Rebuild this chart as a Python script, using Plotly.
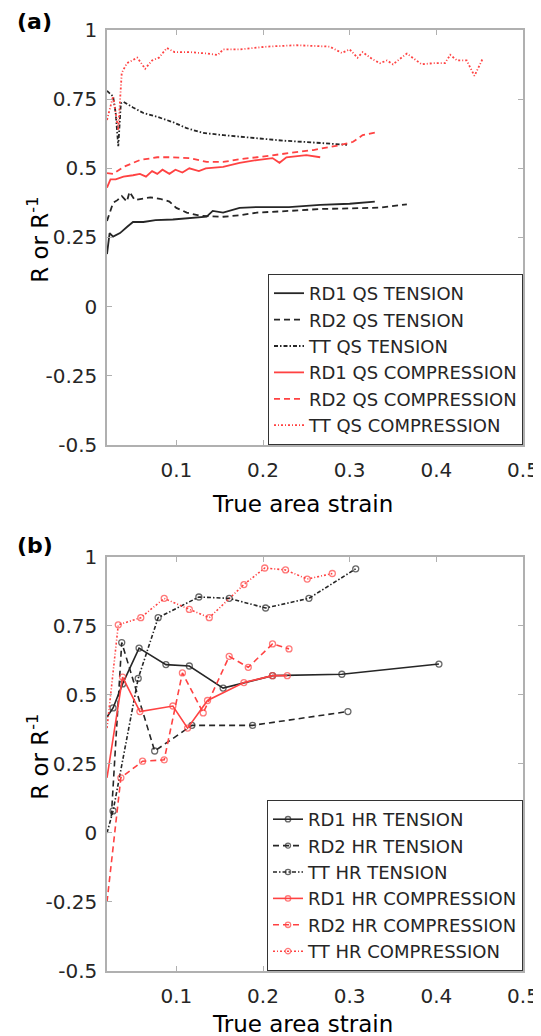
import plotly.graph_objects as go

# ---------------- Panel (a): quasi-static ----------------
rd1_qs_t_x = [0.020, 0.023, 0.027, 0.035, 0.043, 0.050, 0.062, 0.076, 0.096, 0.115, 0.135, 0.142, 0.154, 0.173, 0.193, 0.230, 0.266, 0.300, 0.329]
rd1_qs_t_y = [0.19, 0.266, 0.253, 0.266, 0.288, 0.306, 0.306, 0.313, 0.315, 0.32, 0.325, 0.346, 0.34, 0.357, 0.36, 0.36, 0.368, 0.372, 0.38]

rd2_qs_t_x = [0.020, 0.027, 0.032, 0.037, 0.043, 0.046, 0.052, 0.062, 0.070, 0.081, 0.092, 0.100, 0.112, 0.128, 0.154, 0.173, 0.193, 0.230, 0.266, 0.300, 0.335, 0.366]
rd2_qs_t_y = [0.31, 0.375, 0.385, 0.40, 0.38, 0.415, 0.385, 0.39, 0.395, 0.39, 0.38, 0.357, 0.34, 0.328, 0.325, 0.33, 0.34, 0.346, 0.353, 0.355, 0.358, 0.37]

tt_qs_t_x = [0.020, 0.027, 0.030, 0.033, 0.036, 0.039, 0.050, 0.062, 0.078, 0.096, 0.112, 0.131, 0.154, 0.173, 0.193, 0.223, 0.250, 0.277, 0.297]
tt_qs_t_y = [0.78, 0.76, 0.70, 0.58, 0.735, 0.74, 0.72, 0.70, 0.686, 0.667, 0.645, 0.628, 0.62, 0.614, 0.61, 0.60, 0.595, 0.588, 0.585]

rd1_qs_c_x = [0.020, 0.024, 0.030, 0.039, 0.050, 0.058, 0.065, 0.072, 0.078, 0.084, 0.092, 0.099, 0.107, 0.115, 0.126, 0.134, 0.154, 0.173, 0.193, 0.211, 0.219, 0.227, 0.250, 0.266]
rd1_qs_c_y = [0.43, 0.46, 0.46, 0.47, 0.475, 0.48, 0.47, 0.49, 0.48, 0.495, 0.48, 0.495, 0.485, 0.50, 0.49, 0.50, 0.505, 0.52, 0.53, 0.537, 0.52, 0.54, 0.548, 0.54]

rd2_qs_c_x = [0.020, 0.027, 0.039, 0.058, 0.078, 0.096, 0.115, 0.135, 0.154, 0.173, 0.193, 0.211, 0.230, 0.258, 0.289, 0.304, 0.315, 0.331]
rd2_qs_c_y = [0.483, 0.48, 0.505, 0.53, 0.54, 0.54, 0.537, 0.523, 0.523, 0.533, 0.54, 0.548, 0.555, 0.566, 0.584, 0.596, 0.62, 0.63]

tt_qs_c_x = [0.020, 0.027, 0.033, 0.037, 0.043, 0.055, 0.064, 0.072, 0.080, 0.089, 0.098, 0.116, 0.135, 0.148, 0.154, 0.173, 0.205, 0.239, 0.277, 0.291, 0.300, 0.309, 0.315, 0.326, 0.335, 0.343, 0.350, 0.366, 0.383, 0.396, 0.410, 0.416, 0.424, 0.435, 0.444, 0.454]
tt_qs_c_y = [0.675, 0.76, 0.64, 0.845, 0.88, 0.90, 0.86, 0.89, 0.90, 0.935, 0.92, 0.92, 0.915, 0.91, 0.93, 0.93, 0.94, 0.945, 0.94, 0.917, 0.93, 0.90, 0.92, 0.895, 0.88, 0.89, 0.876, 0.915, 0.876, 0.88, 0.88, 0.91, 0.89, 0.89, 0.834, 0.90]

# ---------------- Panel (b): high rate ----------------
rd1_hr_t_x = [0.020, 0.027, 0.038, 0.057, 0.088, 0.115, 0.154, 0.211, 0.291, 0.403]
rd1_hr_t_y = [0.42, 0.453, 0.54, 0.67, 0.61, 0.605, 0.525, 0.57, 0.575, 0.612]

rd2_hr_t_x = [0.025, 0.037, 0.075, 0.118, 0.188, 0.298]
rd2_hr_t_y = [0.06, 0.69, 0.297, 0.39, 0.39, 0.44]

tt_hr_t_x = [0.020, 0.027, 0.056, 0.079, 0.126, 0.161, 0.203, 0.253, 0.307]
tt_hr_t_y = [0.0, 0.08, 0.56, 0.78, 0.855, 0.85, 0.815, 0.85, 0.957]

rd1_hr_c_x = [0.020, 0.038, 0.058, 0.096, 0.113, 0.136, 0.178, 0.211, 0.228]
rd1_hr_c_y = [0.2, 0.565, 0.44, 0.46, 0.38, 0.48, 0.545, 0.57, 0.57]

rd2_hr_c_x = [0.020, 0.036, 0.061, 0.086, 0.107, 0.131, 0.161, 0.183, 0.211, 0.230]
rd2_hr_c_y = [-0.25, 0.2, 0.26, 0.265, 0.58, 0.435, 0.64, 0.60, 0.685, 0.667]

tt_hr_c_x = [0.020, 0.033, 0.059, 0.086, 0.115, 0.138, 0.178, 0.202, 0.226, 0.251, 0.280]
tt_hr_c_y = [0.38, 0.754, 0.78, 0.85, 0.81, 0.78, 0.90, 0.96, 0.953, 0.92, 0.94]

x_ticks = [0.1, 0.2, 0.3, 0.4, 0.5]
x_tick_labels = ["0.1", "0.2", "0.3", "0.4", "0.5"]
y_ticks = [-0.5, -0.25, 0, 0.25, 0.5, 0.75, 1]
y_tick_labels = ["-0.5", "-0.25", "0", "0.25", "0.5", "0.75", "1"]

BLACK = "#262626"
RED = "#ff4242"
SOLID = "solid"
DASH = "6px,4px"
DASHDOT = "4px,2px,1.5px,2px"
DOTTED = "2px,2px,1px,2px"

fig = go.Figure()

qs_series = [
    ("RD1 QS TENSION", rd1_qs_t_x, rd1_qs_t_y, BLACK, SOLID),
    ("RD2 QS TENSION", rd2_qs_t_x, rd2_qs_t_y, BLACK, DASH),
    ("TT QS TENSION", tt_qs_t_x, tt_qs_t_y, BLACK, DASHDOT),
    ("RD1 QS COMPRESSION", rd1_qs_c_x, rd1_qs_c_y, RED, SOLID),
    ("RD2 QS COMPRESSION", rd2_qs_c_x, rd2_qs_c_y, RED, DASH),
    ("TT QS COMPRESSION", tt_qs_c_x, tt_qs_c_y, RED, DOTTED),
]
for name, xs, ys, col, dash in qs_series:
    fig.add_trace(go.Scatter(x=xs, y=ys, mode="lines", name=name,
                             line=dict(color=col, width=1.8, dash=dash),
                             xaxis="x", yaxis="y", legend="legend"))

hr_series = [
    ("RD1 HR TENSION", rd1_hr_t_x, rd1_hr_t_y, BLACK, SOLID),
    ("RD2 HR TENSION", rd2_hr_t_x, rd2_hr_t_y, BLACK, DASH),
    ("TT HR TENSION", tt_hr_t_x, tt_hr_t_y, BLACK, DASHDOT),
    ("RD1 HR COMPRESSION", rd1_hr_c_x, rd1_hr_c_y, RED, SOLID),
    ("RD2 HR COMPRESSION", rd2_hr_c_x, rd2_hr_c_y, RED, DASH),
    ("TT HR COMPRESSION", tt_hr_c_x, tt_hr_c_y, RED, DOTTED),
]
for name, xs, ys, col, dash in hr_series:
    sizes = [0] + [6] * (len(xs) - 1)
    fig.add_trace(go.Scatter(x=xs, y=ys, mode="lines+markers", name=name,
                             line=dict(color=col, width=1.6, dash=dash),
                             marker=dict(symbol="circle-open", size=sizes, color=col,
                                         line=dict(width=1.3, color=col)),
                             xaxis="x2", yaxis="y2", legend="legend2"))

AXC = "#b0b0b0"
FONT = "DejaVu Sans"

def xax(anchor):
    return dict(range=[0.02, 0.5], tickvals=x_ticks, ticktext=x_tick_labels,
                showline=True, linecolor=AXC, linewidth=1.5, mirror="ticks",
                ticks="inside", ticklen=5, tickcolor=AXC, tickwidth=1,
                showgrid=False, zeroline=False, anchor=anchor, automargin=False,
                tickfont=dict(family=FONT, size=20, color=BLACK),
                ticklabelstandoff=6)

def yax(domain, anchor):
    return dict(range=[-0.5, 1], domain=domain, tickvals=y_ticks, ticktext=y_tick_labels,
                showline=True, linecolor=AXC, linewidth=1.5, mirror="ticks",
                ticks="inside", ticklen=5, tickcolor=AXC, tickwidth=1,
                showgrid=False, zeroline=False, anchor=anchor, automargin=False,
                tickfont=dict(family=FONT, size=20, color=BLACK),
                ticklabelstandoff=4)

legend_common = dict(xanchor="right", yanchor="bottom", x=1.0,
                     bgcolor="white", bordercolor="#333333", borderwidth=1,
                     font=dict(family=FONT, size=18, color=BLACK),
                     tracegroupgap=0, itemwidth=30)

def txt(text, x, y, size, angle=0, xanchor="center"):
    return dict(text=text, xref="paper", yref="paper", x=x, y=y, textangle=angle,
                xanchor=xanchor, yanchor="middle", showarrow=False,
                font=dict(family=FONT, size=size, color="black"))

# the page body adds an 8px offset, so margins are shifted up/left by 8px
fig.update_layout(
    width=541, height=1036,
    margin=dict(l=99, r=26, t=22, b=73),
    paper_bgcolor="white", plot_bgcolor="white",
    font=dict(family=FONT, color=BLACK),
    xaxis=xax("y"),
    yaxis=yax([0.559, 1.0], "x"),
    xaxis2=xax("y2"),
    yaxis2=yax([0.0, 0.44], "x2"),
    legend=dict(y=0.559, **legend_common),
    legend2=dict(y=0.0, **legend_common),
    showlegend=True,
    annotations=[
        txt("<b>(a)</b>", -0.22, 1.009, 22, xanchor="left"),
        txt("<b>(b)</b>", -0.22, 0.4527, 22, xanchor="left"),
        txt("R or R<sup>-1</sup>", -0.166, 0.777, 23, angle=-90),
        txt("R or R<sup>-1</sup>", -0.166, 0.2275, 23, angle=-90),
        txt("True area strain", 0.471, 0.4963, 23),
        txt("True area strain", 0.471, -0.0563, 23),
    ],
)

fig.write_html("out.html")
